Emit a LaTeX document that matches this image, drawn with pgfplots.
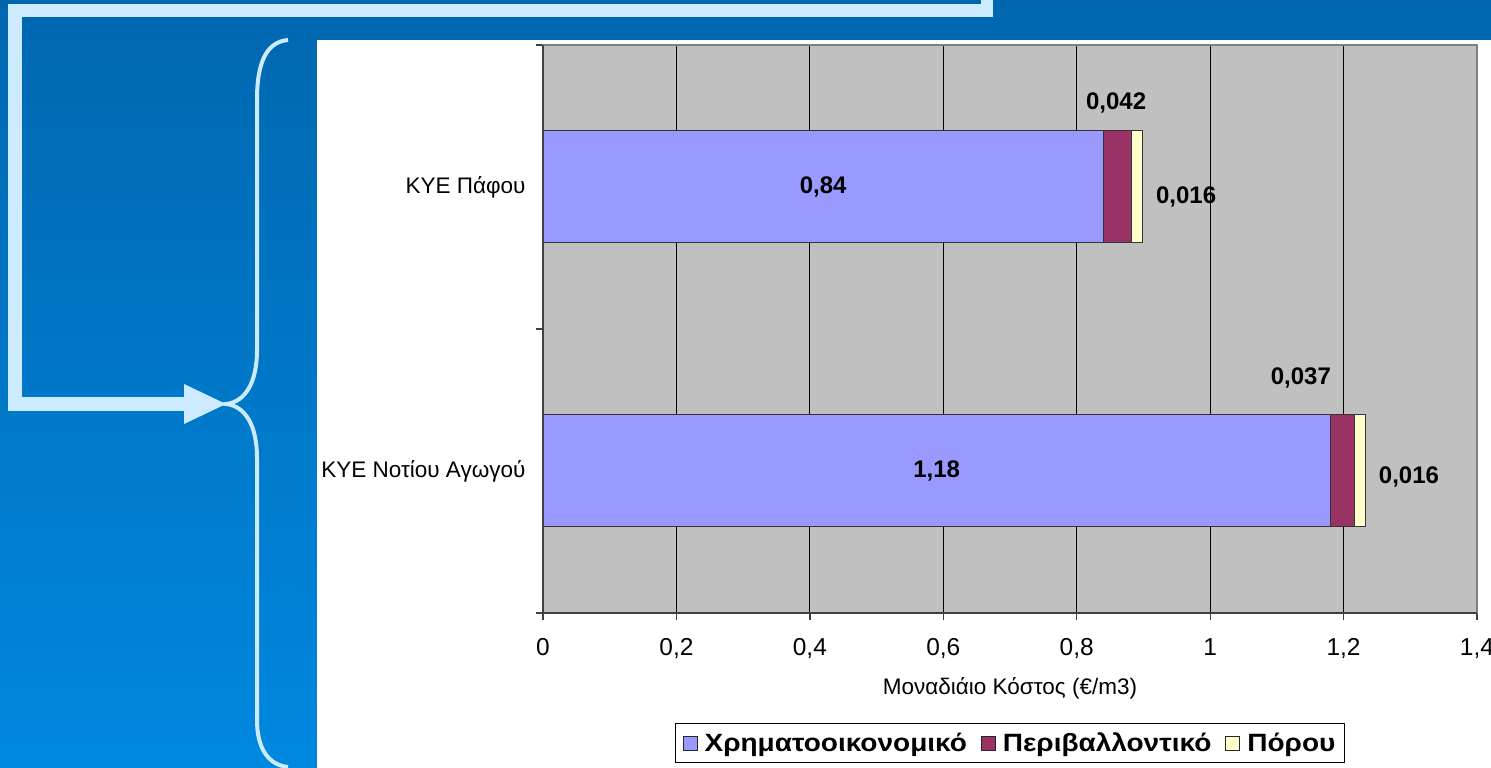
\documentclass[border=0pt]{standalone}
\usepackage{pgfplots}
\pgfplotsset{compat=1.18}
\usepackage{fontspec}
\setmainfont{Liberation Sans}
\newfontfamily\legfont{Liberation Sans}[FakeStretch=1.12]
\definecolor{bgtop}{HTML}{0067AF}
\definecolor{bgbot}{HTML}{0088DF}
\definecolor{frame}{HTML}{CCEBFF}
\definecolor{plotgray}{HTML}{C0C0C0}
\definecolor{barblue}{HTML}{9999FF}
\definecolor{barmaroon}{HTML}{993366}
\definecolor{baryellow}{HTML}{FFFFCC}
\pgfplotsset{sqlegend/.style={legend image code/.code={\draw[##1,draw=black!85,line width=1pt] (0pt,-7pt) rectangle (14pt,7pt); \path (19pt,0pt);}}}
\tikzset{lbl/.style={font=\bfseries\fontsize{24}{24}\selectfont, inner sep=0pt, anchor=center}}
\begin{document}
\begin{tikzpicture}[x=1pt,y=1pt]
\shade[top color=bgtop, bottom color=bgbot] (0,0) rectangle (1491,768);
\path[use as bounding box] (0,0) rectangle (1491,768);
\fill[white] (317,0) rectangle (1491,728);
% frame
\fill[frame] (8,751) rectangle (993,764);
\fill[frame] (981,751) rectangle (993,768);
\fill[frame] (8,357) rectangle (22,764);
\fill[frame] (8,357) rectangle (186,371);
\fill[frame] (184,384) -- (226,364) -- (184,344) -- cycle;
% brace
\draw[frame, line width=4pt] (288,728) .. controls (266,726) and (257,705) .. (257,668) -- (257,418) .. controls (257,385) and (245,366) .. (226,364) .. controls (245,362) and (257,343) .. (257,310) -- (257,48) .. controls (257,20) and (268,3) .. (288,1);
\begin{axis}[
  at={(543pt,155pt)}, anchor=south west,
  scale only axis, width=934pt, height=568pt,
  xbar stacked, bar width=112pt,
  xmin=0, xmax=1.4, ymin=-0.5, ymax=1.5,
  xtick={0,0.2,0.4,0.6,0.8,1,1.2,1.4},
  ytick={-0.5,0.5,1.5}, yticklabels={},
  extra y ticks={0,1},
  extra y tick labels={ΚΥΕ Νοτίου Αγωγού,ΚΥΕ Πάφου},
  extra y tick style={major tick length=0pt, yticklabel style={xshift=-14pt}},
  xtick pos=left, ytick pos=left,
  tick align=outside, major tick length=7pt,
  tick style={black!75, line width=1.3pt},
  axis background/.style={fill=plotgray},
  xmajorgrids, major grid style={black, line width=1.2pt},
  axis line style={draw=gray, line width=1.3pt},
  xticklabel style={font=\fontsize{24.5}{24.5}\selectfont, yshift=-15pt, /pgf/number format/.cd, use comma, assume math mode=true},
  yticklabel style={font=\fontsize{22.5}{22.5}\selectfont},
  xlabel={Μοναδιάιο Κόστος (€/m3)},
  xlabel style={font=\fontsize{22.5}{22.5}\selectfont, at={(axis description cs:0.5,0)}, anchor=center, yshift=-75pt},
  legend columns=3,
  legend style={at={(0.5,-0.194)}, anchor=north, draw=black, line width=1pt, fill=white,
    font=\legfont\bfseries\fontsize{25}{25}\selectfont, inner xsep=7pt, inner ysep=7.5pt,
    /tikz/every even column/.append style={column sep=12pt}},
]
\addplot[fill=barblue, draw=black!80, line width=1pt, sqlegend] coordinates {(1.18,0) (0.84,1)};
\addlegendentry{Χρηματοοικονομικό}
\addplot[fill=barmaroon, draw=black!80, line width=1pt, sqlegend] coordinates {(0.037,0) (0.042,1)};
\addlegendentry{Περιβαλλοντικό}
\addplot[fill=baryellow, draw=black!80, line width=1pt, sqlegend] coordinates {(0.016,0) (0.016,1)};
\addlegendentry{Πόρου}
\coordinate (tl) at (rel axis cs:0,1);
\coordinate (bl) at (rel axis cs:0,0);
\coordinate (br) at (rel axis cs:1,0);
\coordinate (l1) at (axis cs:0.42,1);
\coordinate (l2) at (axis cs:0.859,1.296);
\coordinate (l3) at (axis cs:0.964,0.965);
\coordinate (l4) at (axis cs:0.59,0);
\coordinate (l5) at (axis cs:1.136,0.327);
\coordinate (l6) at (axis cs:1.298,-0.02);
\end{axis}
\draw[black!75, line width=1.6pt] (tl) -- (bl) -- (br);
\node[lbl] at (l1) {0,84};
\node[lbl] at (l2) {0,042};
\node[lbl] at (l3) {0,016};
\node[lbl] at (l4) {1,18};
\node[lbl] at (l5) {0,037};
\node[lbl] at (l6) {0,016};
\end{tikzpicture}
\end{document}
